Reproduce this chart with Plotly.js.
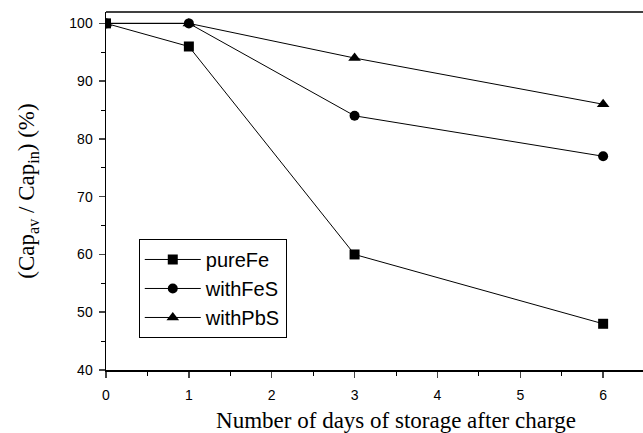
<!DOCTYPE html>
<html><head><meta charset="utf-8">
<script src="https://cdn.plot.ly/plotly-3.0.1.min.js"></script>
<style>html,body{margin:0;padding:0;background:#fff;overflow:hidden}</style>
</head><body>
<div style="width:643px;height:433px;overflow:hidden">
<div id="chart" style="width:686px;height:433px"></div>
</div>
<script>
const days = [0, 1, 3, 6];
const pureFe = [100, 96, 60, 48];
const withFeS = [100, 100, 84, 77];
const withPbS = [100, 100, 94, 86];
const seriesNames = ['pureFe', 'withFeS', 'withPbS'];
const xTicks = [0, 1, 2, 3, 4, 5, 6, 7];
const yTicks = [40, 50, 60, 70, 80, 90, 100];

const symbols = ['square', 'circle', 'triangle-up'];
const sizes = [10, 10, 11];
const data = [pureFe, withFeS, withPbS].map((ys, i) => ({
  x: days, y: ys, name: seriesNames[i], type: 'scatter', mode: 'lines+markers',
  line: {color: '#000', width: 1},
  marker: {symbol: symbols[i], size: sizes[i], color: '#000'}
}));

const layout = {
  width: 686, height: 433,
  margin: {l: 106, r: 0, t: 12, b: 63},
  paper_bgcolor: '#fff', plot_bgcolor: '#fff',
  showlegend: true,
  legend: {x: 0.0565, y: 0.366, xanchor: 'left', yanchor: 'top',
    bordercolor: '#000', borderwidth: 1, bgcolor: '#fff',
    font: {family: 'Liberation Sans, Arial', size: 20, color: '#000'},
    tracegroupgap: 0, itemwidth: 56},
  xaxis: {range: [0, 7], tickvals: xTicks, ticks: 'outside', ticklen: 6, tickwidth: 1.5,
    showline: true, linecolor: '#000', linewidth: 1.5, mirror: false, showgrid: false, zeroline: false,
    ticklabelstandoff: 6,
    tickfont: {family: 'Liberation Sans, Arial', size: 14, color: '#000'},
    minor: {dtick: 0.5, ticks: 'outside', ticklen: 4, tickwidth: 1, tickcolor: '#000'},
    title: {text: 'Number of days of storage after charge', standoff: 14,
      font: {family: 'Liberation Serif, Times New Roman', size: 23, color: '#000'}}},
  yaxis: {range: [40, 101.97], tickvals: yTicks, ticks: 'outside', ticklen: 6, tickwidth: 1.5,
    showline: true, linecolor: '#000', linewidth: 1.5, mirror: false, showgrid: false, zeroline: false,
    ticklabelstandoff: 3,
    tickfont: {family: 'Liberation Sans, Arial', size: 14, color: '#000'},
    minor: {dtick: 5, ticks: 'outside', ticklen: 4, tickwidth: 1, tickcolor: '#000'},
    title: {text: '(Cap<sub>av</sub> / Cap<sub>in</sub>) (%)', standoff: 28,
      font: {family: 'Liberation Serif, Times New Roman', size: 23, color: '#000'}}},
  shapes: [{type: 'line', xref: 'paper', yref: 'paper', x0: 0, x1: 1, y0: 1, y1: 1,
    line: {color: '#000', width: 1.5}}]
};
Plotly.newPlot('chart', data, layout, {displayModeBar: false, staticPlot: true});
</script>
</body></html>
